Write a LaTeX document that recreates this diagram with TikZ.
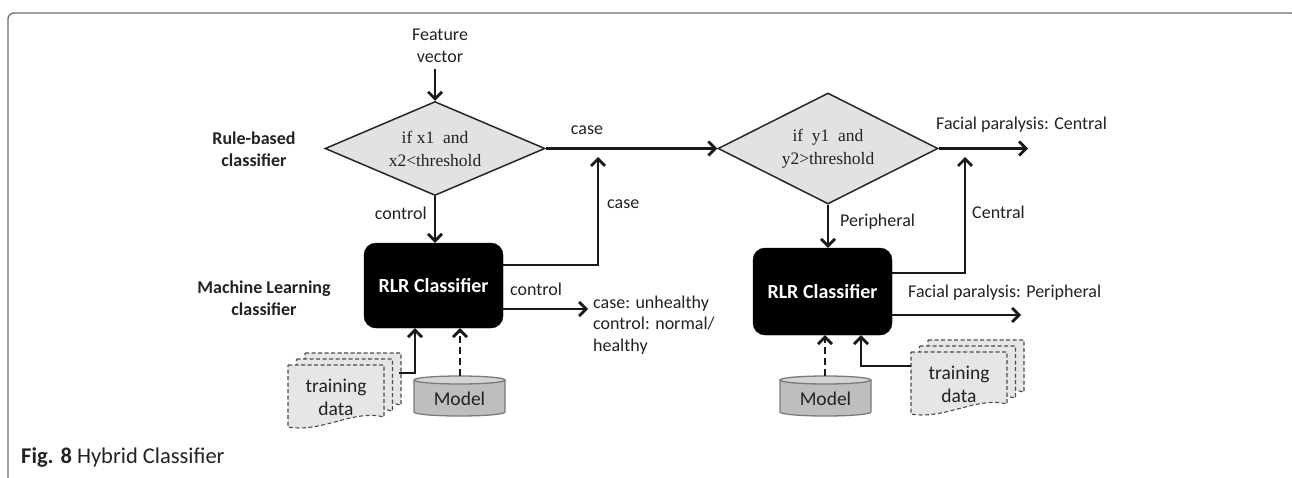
\documentclass[tikz,border=0pt]{standalone}
\usepackage{fontspec}
\setmainfont{Carlito}
\newfontfamily\tnr{Liberation Serif}
\usetikzlibrary{shapes.geometric,arrows.meta}
\definecolor{txt}{HTML}{222222}
\definecolor{diamfill}{HTML}{E2E2E2}
\definecolor{docfill}{HTML}{E6E6E6}
\definecolor{cylfill}{HTML}{BEBEBE}
\definecolor{cyltop}{HTML}{D4D4D4}
\definecolor{cylline}{HTML}{7A7A7A}
\definecolor{frame}{HTML}{6E6E6E}
\newcommand{\trainstack}[2]{%
  \begin{scope}[shift={(#1,#2)}]
    \foreach \dx/\dy in {17/-12, 8.5/-6, 0/0}{
      \draw[docline] (\dx,\dy) -- ++(96,0) -- ++(0,52)
        .. controls ++(-30,-8) and ++(34,6) .. ++(-96,10) -- cycle;
    }
  \end{scope}}
\begin{document}
\begin{tikzpicture}[x=1pt,y=-1pt,
  lbl/.style={text=txt, font=\fontsize{18}{21.5}\selectfont, inner sep=0pt},
  blbl/.style={text=txt, font=\fontsize{18}{22}\selectfont\bfseries, inner sep=0pt, align=center},
  diam/.style={shape=diamond, draw=black!85, line width=1.5pt, fill=diamfill, inner sep=0pt,
     align=center, font=\tnr\fontsize{17.5}{23}\selectfont, text=txt},
  rlr/.style={rectangle, rounded corners=12pt, fill=black, draw=black, text=white,
     font=\fontsize{20}{22}\selectfont\bfseries, minimum width=139pt, inner sep=0pt},
  arr/.style={draw=black!90, line width=2.8pt, -{Straight Barb[length=7pt,width=14pt]}},
  darr/.style={arr, dash pattern=on 7pt off 4pt},
  docline/.style={draw=black!70, line width=1.1pt, dash pattern=on 4pt off 2.5pt, fill=docfill},
  cyl/.style={draw=cylline, line width=1.3pt, fill=cylfill},
]
\useasboundingbox (0,0) rectangle (1292,477);
\begin{scope}
  \clip (0,0) rectangle (1292,477);
  \draw[frame, line width=1.3pt, rounded corners=6pt] (8,13) rectangle (1297,540);
\end{scope}

% caption
\node[anchor=west, inner sep=0pt, font=\fontsize{22.5}{26}\selectfont, text=txt] (cap) at (21,458)
  {\textbf{Fig. 8} Hybrid Classifier};

% left labels
\node[blbl] (rb) at (254,149) {Rule-based\\classifier};
\node[blbl] (ml) at (264,298) {Machine Learning\\classifier};

% top input
\node[lbl, align=center] (fv) at (440,46) {Feature\\vector};

% diamonds
\node[diam, minimum width=220pt, minimum height=94pt, aspect=2.3] (d1) at (435,148.5)
  {if x1 \ and\\x2<threshold};
\node[diam, minimum width=220pt, minimum height=111pt, aspect=2] (d2) at (828,148.5)
  {if \ y1 \ and\\y2>threshold};

% RLR boxes
\node[rlr, minimum height=85pt] (b1) at (433.5,285.5) {RLR Classifier};
\node[rlr, minimum height=87pt] (b2) at (822.5,291.5) {RLR Classifier};

% coordinates
\coordinate (c1) at (598,157);
\coordinate (o1) at (588,309);
\coordinate (o2) at (1028,148.5);
\coordinate (c2) at (965,157);
\coordinate (o3) at (1021,315);
\coordinate (f1) at (435,69);

% arrows, first stage
\draw[arr] (f1) -- (d1.north);
\draw[arr] (d1.south) -- (d1.south |- b1.north);
\draw[arr] (d1.east) -- (d2.west);
\draw[arr] (b1.east |- 0,265) -| (c1);
\draw[arr] (b1.east |- 0,309) -- (o1);

% arrows, second stage
\draw[arr] (d2.east) -- (o2);
\draw[arr] (d2.south) -- (d2.south |- b2.north);
\draw[arr] (b2.east |- 0,273) -| (c2);
\draw[arr] (b2.east |- 0,315) -- (o3);

% labels
\node[lbl, anchor=east] (lc1) at (427,213) {control};
\node[lbl] (lcase1) at (587,130) {case};
\node[lbl, anchor=west] (lcase2) at (607,204) {case};
\node[lbl, anchor=west] (lc2) at (510,289) {control};
\node[lbl, anchor=west, align=left] (out1) at (593,325)
  {case: unhealthy\\control: normal/\\healthy};
\node[lbl, anchor=west] (lfc) at (936,125) {Facial paralysis: Central};
\node[lbl, anchor=west] (lper) at (840,222) {Peripheral};
\node[lbl, anchor=west] (lcen) at (972,212) {Central};
\node[lbl, anchor=west] (lfp) at (908,293) {Facial paralysis: Peripheral};

% training data stacks
\trainstack{288}{365}
\node[lbl, align=center, font=\fontsize{19.5}{23}\selectfont] (td1) at (336,397) {training\\data};
\trainstack{911}{352}
\node[lbl, align=center, font=\fontsize{19.5}{23}\selectfont] (td2) at (959,384) {training\\data};

% cylinders
\draw[cyl] (414,380) -- (414,412) arc[start angle=180, end angle=360, x radius=45.5pt, y radius=4pt]
  -- (505,380);
\draw[cyl, fill=cyltop] (459.5,380) ellipse[x radius=45.5pt, y radius=4pt];
\node[lbl, font=\fontsize{19.5}{23}\selectfont] (m1) at (459.5,399) {Model};
\coordinate (m1t) at (460,376);
\draw[cyl] (780,380) -- (780,412) arc[start angle=180, end angle=360, x radius=45.5pt, y radius=4pt]
  -- (871,380);
\draw[cyl, fill=cyltop] (825.5,380) ellipse[x radius=45.5pt, y radius=4pt];
\node[lbl, font=\fontsize{19.5}{23}\selectfont] (m2) at (825.5,399) {Model};
\coordinate (m2t) at (825,376);

% inputs to RLR
\coordinate (t1) at (399,373);
\coordinate (t2) at (911,366);
\draw[arr] (t1) -| (b1.south -| 415,0);
\draw[darr] (m1t) -- (b1.south -| m1t);
\draw[arr] (t2) -| (b2.south -| 861,0);
\draw[darr] (m2t) -- (b2.south -| m2t);
\end{tikzpicture}
\end{document}
